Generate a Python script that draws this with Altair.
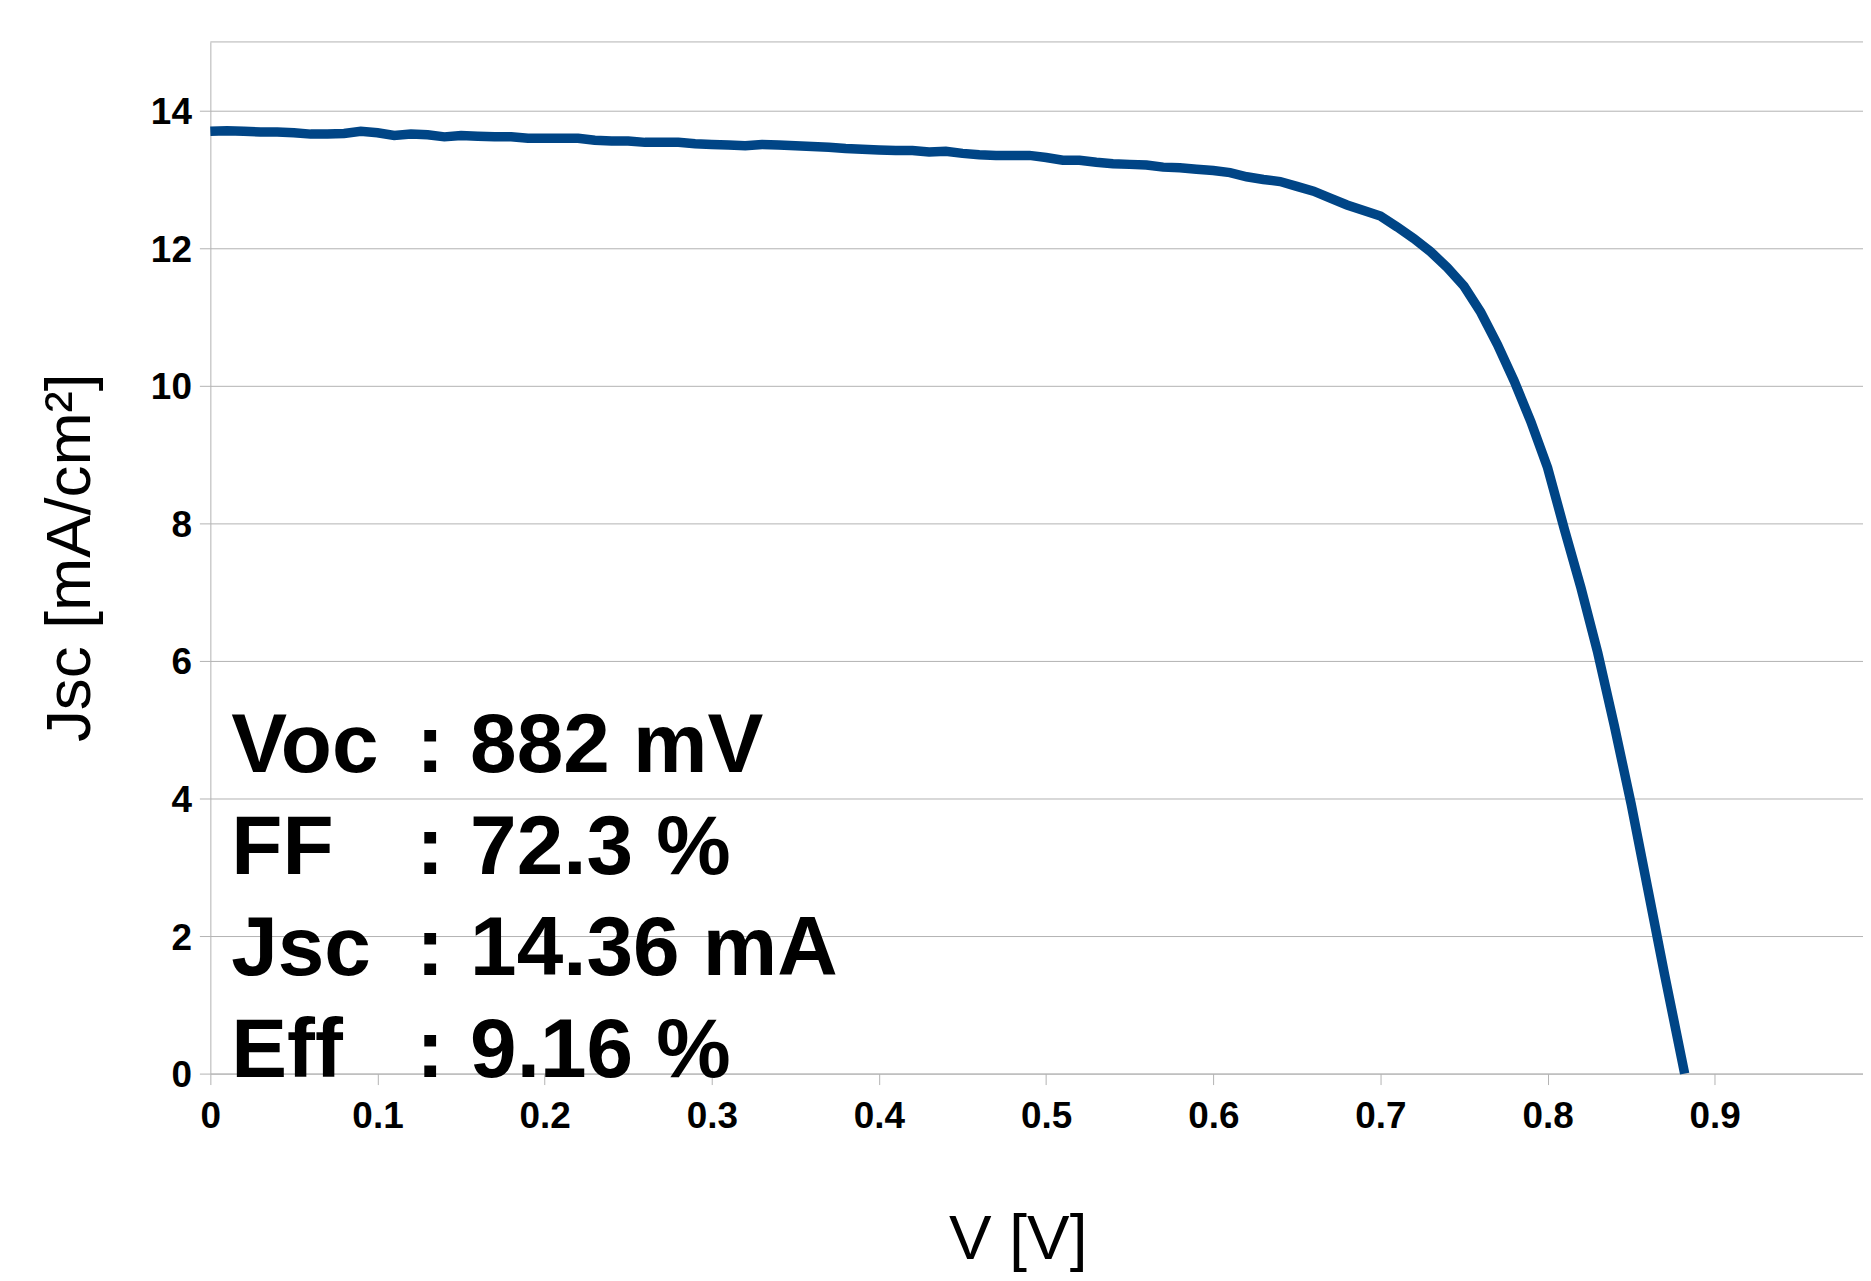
import altair as alt
import pandas as pd

# ---- data ----
voltage = [0.00, 0.01, 0.02, 0.03, 0.04, 0.05, 0.06, 0.07, 0.08, 0.09,
           0.10, 0.11, 0.12, 0.13, 0.14, 0.15, 0.16, 0.17, 0.18, 0.19,
           0.20, 0.21, 0.22, 0.23, 0.24, 0.25, 0.26, 0.27, 0.28, 0.29,
           0.30, 0.31, 0.32, 0.33, 0.34, 0.35, 0.36, 0.37, 0.38, 0.39,
           0.40, 0.41, 0.42, 0.43, 0.44, 0.45, 0.46, 0.47, 0.48, 0.49,
           0.50, 0.51, 0.52, 0.53, 0.54, 0.55, 0.56, 0.57, 0.58, 0.59,
           0.60, 0.61, 0.62, 0.63, 0.64, 0.65, 0.66, 0.67, 0.68, 0.69,
           0.70, 0.71, 0.72, 0.73, 0.74, 0.75, 0.76, 0.77, 0.78, 0.79,
           0.80, 0.81, 0.82, 0.83, 0.84, 0.85, 0.86, 0.87, 0.88, 0.882]
current = [13.70, 13.71, 13.70, 13.69, 13.69, 13.68, 13.66, 13.66, 13.67, 13.70,
           13.68, 13.64, 13.66, 13.65, 13.62, 13.64, 13.63, 13.62, 13.62, 13.60,
           13.60, 13.60, 13.60, 13.57, 13.56, 13.56, 13.54, 13.54, 13.54, 13.52,
           13.51, 13.50, 13.49, 13.51, 13.50, 13.49, 13.48, 13.47, 13.45, 13.44,
           13.43, 13.42, 13.42, 13.40, 13.41, 13.38, 13.36, 13.35, 13.35, 13.35,
           13.32, 13.28, 13.28, 13.25, 13.23, 13.22, 13.21, 13.18, 13.17, 13.15,
           13.13, 13.10, 13.04, 13.00, 12.97, 12.90, 12.83, 12.73, 12.63, 12.55,
           12.47, 12.31, 12.14, 11.95, 11.72, 11.45, 11.07, 10.60, 10.07, 9.48,
           8.81, 7.92, 7.06, 6.12, 5.05, 3.92, 2.68, 1.44, 0.24, 0.00]

x_ticks = [0, 0.1, 0.2, 0.3, 0.4, 0.5, 0.6, 0.7, 0.8, 0.9]
y_ticks = [0, 2, 4, 6, 8, 10, 12, 14]

param_names = ["Voc", "FF", "Jsc", "Eff"]
param_values = ["882 mV", "72.3 %", "14.36 mA", "9.16 %"]

df = pd.DataFrame({"V": voltage, "J": current})
ann = pd.DataFrame({"label": param_names, "value": param_values,
                    "row": list(range(len(param_names)))})

GRAY = "#b3b3b3"
NARROW = "Liberation Sans Narrow, Arial Narrow, Liberation Sans, Arial"
REG = "Liberation Sans, Arial"

x_scale = alt.Scale(domain=[0, 0.9887], nice=False, zero=True)
y_scale = alt.Scale(domain=[0, 15], nice=False, zero=True)

line = alt.Chart(df).mark_line(color="#004586", strokeWidth=9.5).encode(
    x=alt.X("V:Q", scale=x_scale,
            axis=alt.Axis(values=x_ticks, format="~g", title="V [V]", grid=False,
                          tickSize=11, labelPadding=14, labelFlush=False,
                          labelOverlap=False, titleX=810, titleY=185,
                          titleAlign="center", titleBaseline="alphabetic",
                          titleAnchor="start")),
    y=alt.Y("J:Q", scale=y_scale,
            axis=alt.Axis(values=y_ticks, format="d", title="Jsc [mA/cm²]",
                          grid=True, tickSize=11, labelPadding=8,
                          labelOffset=2, labelOverlap=False,
                          titleAngle=270, titleX=-121, titleY=517,
                          titleAlign="center", titleBaseline="alphabetic")),
)

top_rule = alt.Chart(pd.DataFrame({"J": [15]})).mark_rule(
    color=GRAY, strokeWidth=1).encode(y=alt.Y("J:Q", scale=y_scale))

base_ann = alt.Chart(ann).transform_calculate(J="4.387 - datum.row * 1.478")

text_kw = dict(font=NARROW, fontSize=84, fontWeight="bold", color="black",
               baseline="alphabetic")

labels = base_ann.transform_calculate(V="0.0125").mark_text(
    align="left", **text_kw).encode(
    x=alt.X("V:Q", scale=x_scale), y=alt.Y("J:Q", scale=y_scale), text="label:N")

colons = base_ann.transform_calculate(V="0.1315", c="':'").mark_text(
    align="center", **text_kw).encode(
    x=alt.X("V:Q", scale=x_scale), y=alt.Y("J:Q", scale=y_scale), text="c:N")

values = base_ann.transform_calculate(V="0.1554").mark_text(
    align="left", **text_kw).encode(
    x=alt.X("V:Q", scale=x_scale), y=alt.Y("J:Q", scale=y_scale), text="value:N")

chart = alt.layer(top_rule, line, labels, colons, values).properties(
    width=1658, height=1035,
    autosize=alt.AutoSizeParams(type="none"),
    padding={"left": 203, "top": 32, "right": 0, "bottom": 198},
    background="white",
).configure_view(stroke=None).configure_axis(
    domainColor=GRAY, tickColor=GRAY, gridColor=GRAY,
    domainWidth=1, tickWidth=1, gridWidth=1,
    labelColor="black", labelFont=NARROW, labelFontWeight="bold", labelFontSize=37,
    titleColor="black", titleFont=REG, titleFontWeight="normal", titleFontSize=64,
)

chart.save("out.html", embed_options={"renderer": "svg", "actions": False})
